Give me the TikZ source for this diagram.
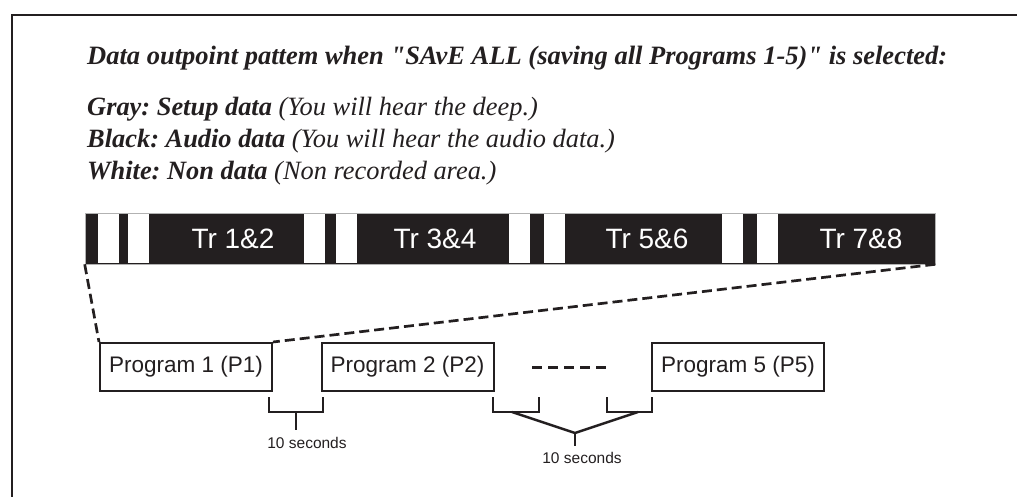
\documentclass[tikz,border=0pt]{standalone}
\usepackage{fontspec}
\setmainfont{Liberation Serif}
\setsansfont{Liberation Sans}
\usetikzlibrary{positioning}
\definecolor{ink}{RGB}{35,31,32}
\frenchspacing

\begin{document}
\begin{tikzpicture}[x=1pt, y=-1pt, line join=miter,
	prog/.style={draw=ink, line width=2pt, minimum width=172pt, minimum height=48pt, inner sep=0pt, font=\sffamily\fontsize{22.5}{26}\selectfont, text=ink},
	secs/.style={font=\sffamily\fontsize{15.5}{18}\selectfont, text=ink, inner sep=0pt},
	brace/.style={draw=ink, line width=2.5pt},
	zoomline/.style={draw=ink, line width=2.7pt, dash pattern=on 10pt off 5pt},
	legend/.style={anchor=base west, inner sep=0pt, text=ink, font=\fontsize{26.4}{30}\selectfont}]
\useasboundingbox (0,0) rectangle (1017,497);

% Frame
\draw[ink, line width=2pt] (12,497) -- (12,15) -- (1017,15);

% Legend
\node[legend, font=\bfseries\itshape\fontsize{26.5}{30}\selectfont] (title) at (87,65) {Data outpoint pattem when \textquotedbl SAvE ALL (saving all Programs 1-5)\textquotedbl\ is selected:};
\node[legend] (gray) at (87,116) {\textbf{\textit{Gray: Setup data}} \textit{(You will hear the deep.)}};
\node[legend] (black) at (87,148) {\textbf{\textit{Black: Audio data}} \textit{(You will hear the audio data.)}};
\node[legend] (white) at (87,180) {\textbf{\textit{White: Non data}} \textit{(Non recorded area.)}};

% Data bar
\node[fill=ink, draw=gray!60, line width=0.6pt, minimum width=850pt, minimum height=51pt, inner sep=0pt] (bar) at (510,238.5) {};
\foreach \x in {98,128,304,336,509,544,722,757}
	\fill[white] (\x,214) rectangle +(21,49);
\foreach \x/\t in {233/Tr 1\&2, 435/Tr 3\&4, 647/Tr 5\&6, 861/Tr 7\&8}
	\node[text=white, font=\sffamily\fontsize{28}{32}\selectfont, inner sep=0pt] (tr\x) at (\x,238.5) {\t};

% Programs
\node[prog] (p1) at (186,367) {Program 1 (P1)};
\node[prog] (p2) at (407.5,367) {Program 2 (P2)};
\node[prog] (p5) at (738,367) {Program 5 (P5)};
\coordinate (gapL) at (532,367);
\coordinate (gapR) at (606,367);
\draw[ink, line width=3pt, dash pattern=on 10pt off 6pt] (gapL) -- (gapR);

% Zoom lines
\draw[zoomline] (bar.south west) -- (p1.north west);
\draw[zoomline] (bar.south east) -- (p1.north east);

% 10 seconds (P1 to P2)
\draw[brace] (269,397) -- (269,412) -- (323,412) -- (323,397);
\draw[brace] (296,412) -- (296,430);
\node[secs] (sec1) at (307,443) {10 seconds};

% 10 seconds (P2 to P5)
\draw[brace] (493,397) -- (493,412) -- (539,412) -- (539,397);
\draw[brace] (607,397) -- (607,412) -- (652,412) -- (652,397);
\coordinate (fork) at (575,433);
\draw[brace] (512,412) -- (fork) -- (638,412);
\draw[brace] (fork) -- (575,446);
\node[secs] (sec2) at (582,458) {10 seconds};
\end{tikzpicture}
\end{document}
